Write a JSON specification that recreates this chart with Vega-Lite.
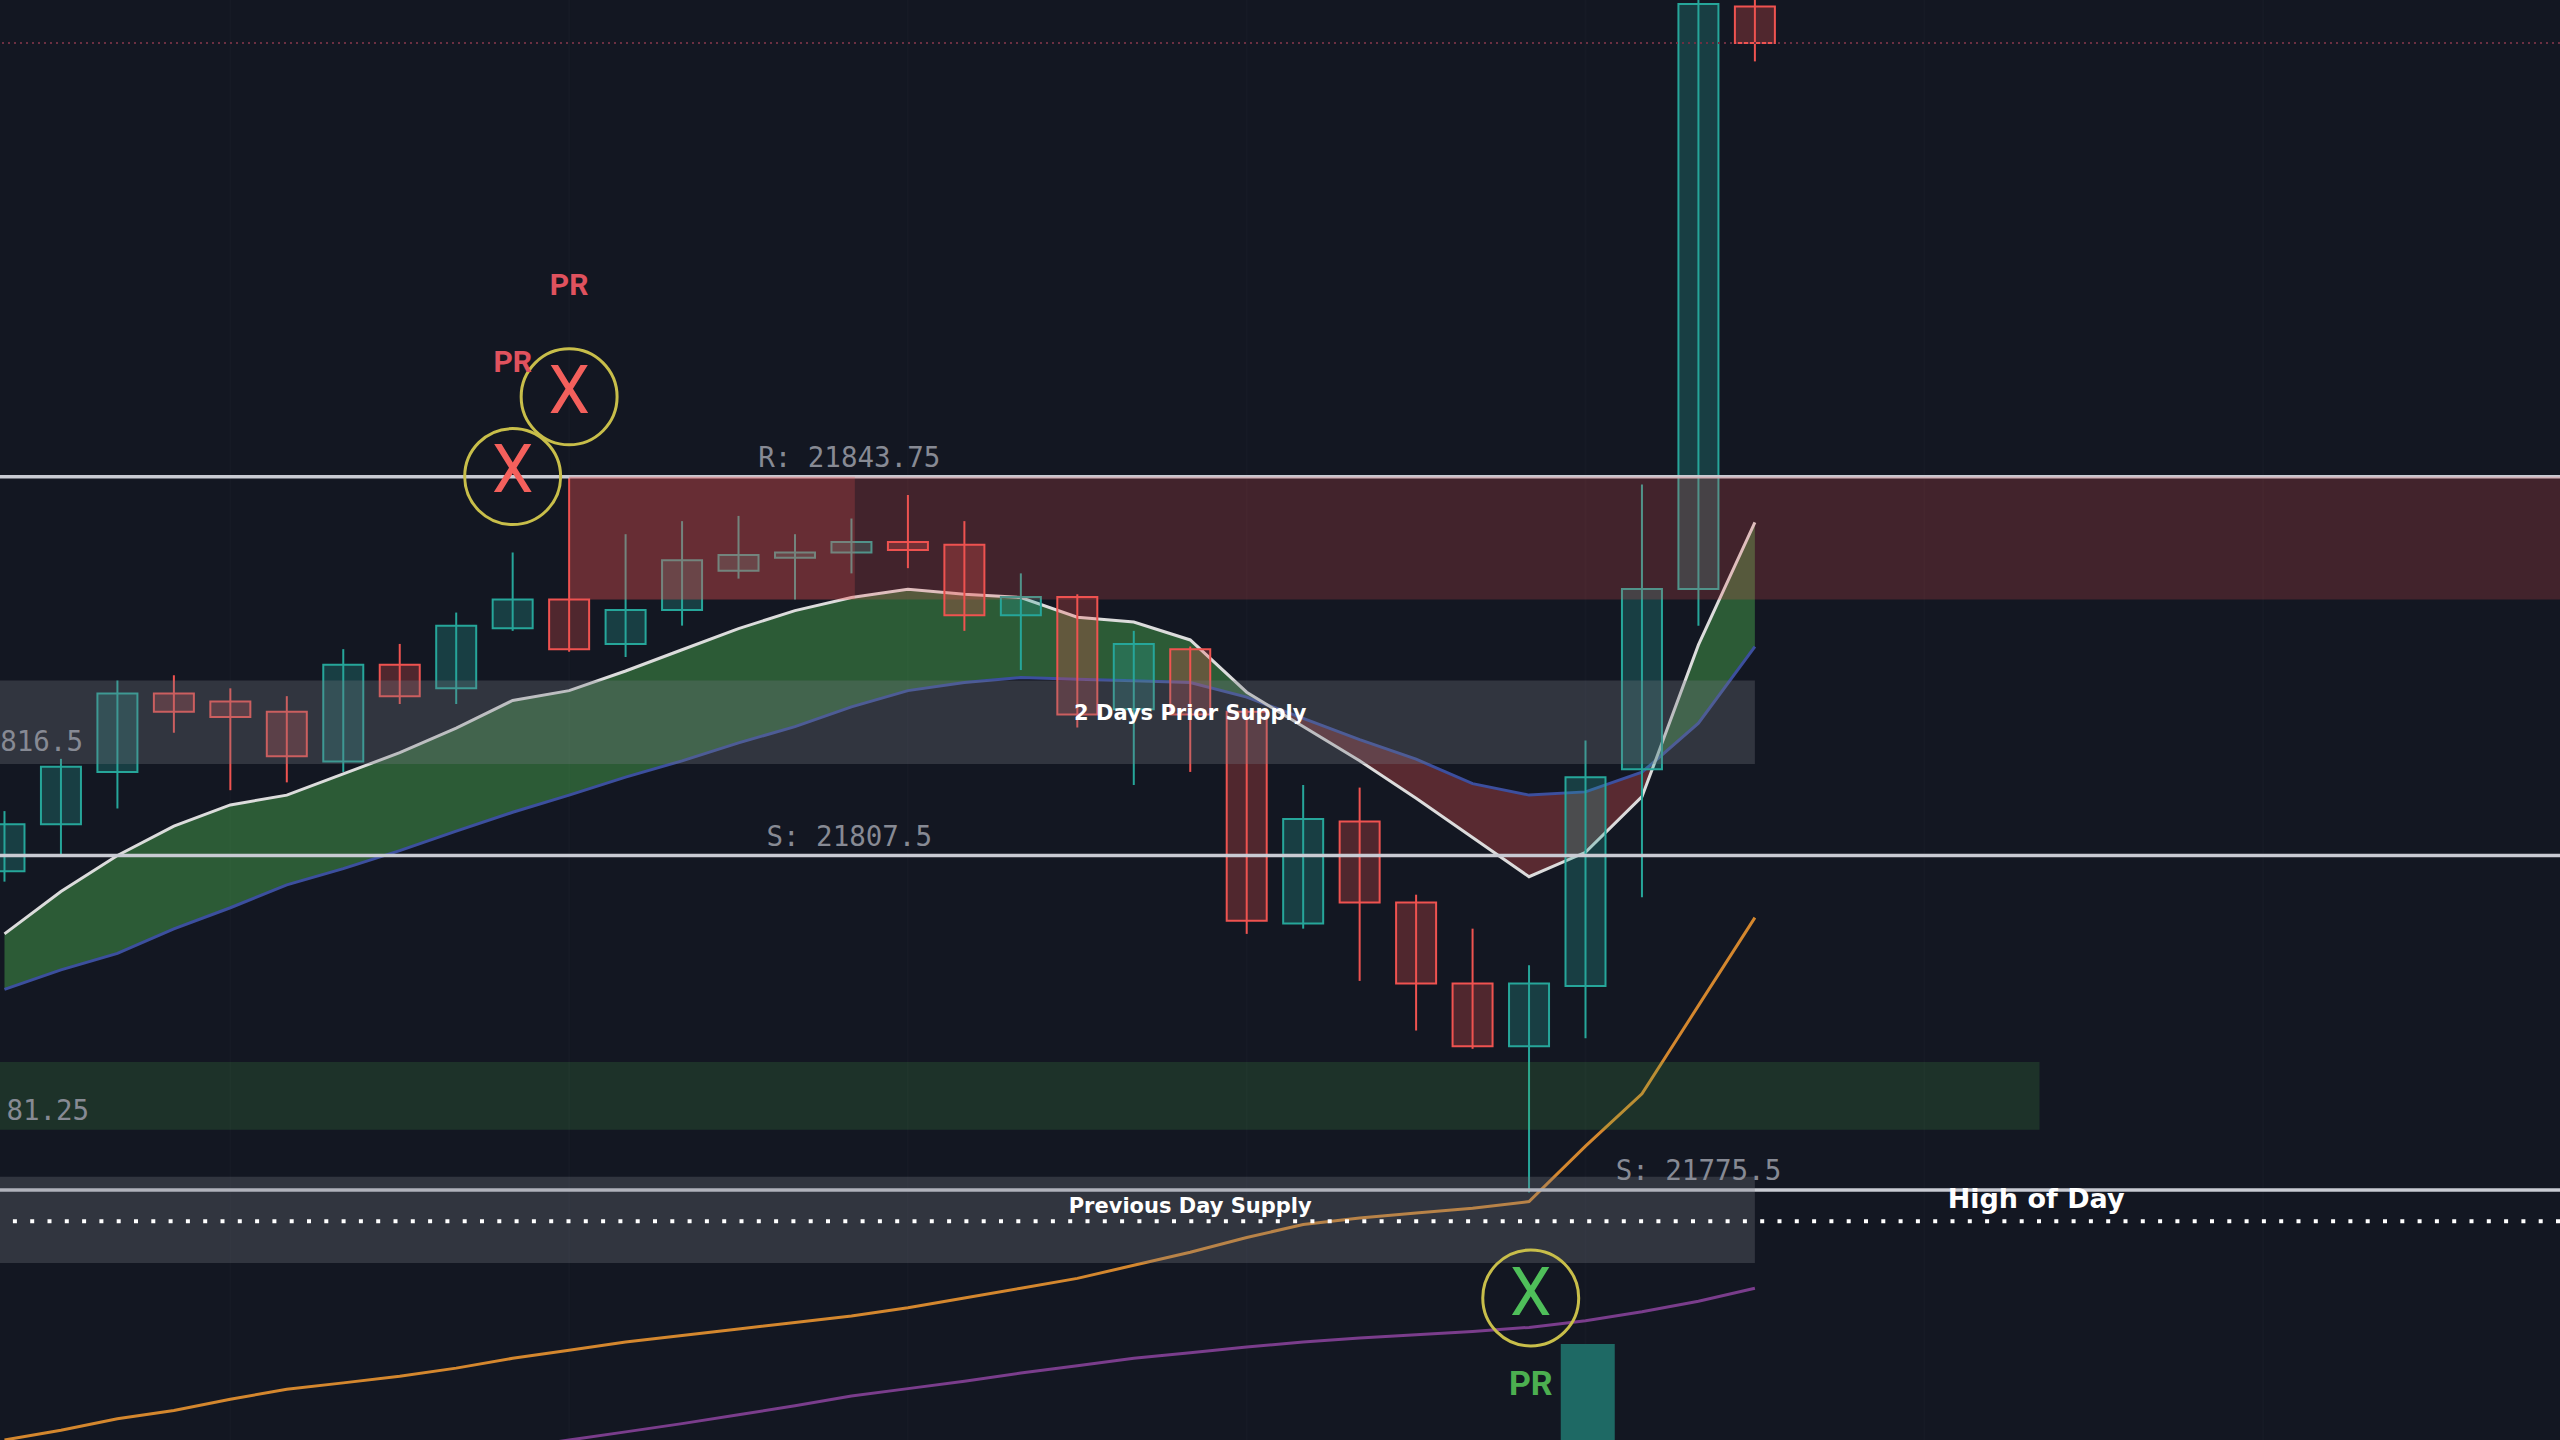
{
  "$schema": "https://vega.github.io/schema/vega-lite/v6.json",
  "width": 2560,
  "height": 1440,
  "autosize": {"type": "none"},
  "padding": 0,
  "background": "#131722",
  "config": {"view": {"stroke": null}},
  "datasets": {
    "grid": [{"i": 4}, {"i": 10}, {"i": 16}, {"i": 22}, {"i": 28}, {"i": 34}, {"i": 40}],
    "candles": [
      {"i": 0, "o": 21806.0, "h": 21811.75, "l": 21805.0, "c": 21810.5, "dir": "up"},
      {"i": 1, "o": 21810.5, "h": 21816.75, "l": 21807.5, "c": 21816.0, "dir": "up"},
      {"i": 2, "o": 21815.5, "h": 21824.25, "l": 21812.0, "c": 21823.0, "dir": "up"},
      {"i": 3, "o": 21823.0, "h": 21824.75, "l": 21819.25, "c": 21821.25, "dir": "down"},
      {"i": 4, "o": 21822.25, "h": 21823.5, "l": 21813.75, "c": 21820.75, "dir": "down"},
      {"i": 5, "o": 21821.25, "h": 21822.75, "l": 21814.5, "c": 21817.0, "dir": "down"},
      {"i": 6, "o": 21816.5, "h": 21827.25, "l": 21815.5, "c": 21825.75, "dir": "up"},
      {"i": 7, "o": 21825.75, "h": 21827.75, "l": 21822.0, "c": 21822.75, "dir": "down"},
      {"i": 8, "o": 21823.5, "h": 21830.75, "l": 21822.0, "c": 21829.5, "dir": "up"},
      {"i": 9, "o": 21829.25, "h": 21836.5, "l": 21829.0, "c": 21832.0, "dir": "up"},
      {"i": 10, "o": 21832.0, "h": 21843.75, "l": 21827.0, "c": 21827.25, "dir": "down"},
      {"i": 11, "o": 21827.75, "h": 21838.25, "l": 21826.5, "c": 21831.0, "dir": "up"},
      {"i": 12, "o": 21831.0, "h": 21839.5, "l": 21829.5, "c": 21835.75, "dir": "up"},
      {"i": 13, "o": 21834.75, "h": 21840.0, "l": 21834.0, "c": 21836.25, "dir": "up"},
      {"i": 14, "o": 21836.0, "h": 21838.25, "l": 21832.0, "c": 21836.5, "dir": "up"},
      {"i": 15, "o": 21836.5, "h": 21839.75, "l": 21834.5, "c": 21837.5, "dir": "up"},
      {"i": 16, "o": 21837.5, "h": 21842.0, "l": 21835.0, "c": 21836.75, "dir": "down"},
      {"i": 17, "o": 21837.25, "h": 21839.5, "l": 21829.0, "c": 21830.5, "dir": "down"},
      {"i": 18, "o": 21830.5, "h": 21834.5, "l": 21825.25, "c": 21832.25, "dir": "up"},
      {"i": 19, "o": 21832.25, "h": 21832.5, "l": 21819.75, "c": 21821.0, "dir": "down"},
      {"i": 20, "o": 21821.5, "h": 21829.0, "l": 21814.25, "c": 21827.75, "dir": "up"},
      {"i": 21, "o": 21827.25, "h": 21827.5, "l": 21815.5, "c": 21821.0, "dir": "down"},
      {"i": 22, "o": 21821.25, "h": 21821.5, "l": 21800.0, "c": 21801.25, "dir": "down"},
      {"i": 23, "o": 21801.0, "h": 21814.25, "l": 21800.5, "c": 21811.0, "dir": "up"},
      {"i": 24, "o": 21810.75, "h": 21814.0, "l": 21795.5, "c": 21803.0, "dir": "down"},
      {"i": 25, "o": 21803.0, "h": 21803.75, "l": 21790.75, "c": 21795.25, "dir": "down"},
      {"i": 26, "o": 21795.25, "h": 21800.5, "l": 21789.0, "c": 21789.25, "dir": "down"},
      {"i": 27, "o": 21789.25, "h": 21797.0, "l": 21775.25, "c": 21795.25, "dir": "up"},
      {"i": 28, "o": 21795.0, "h": 21818.5, "l": 21790.0, "c": 21815.0, "dir": "up"},
      {"i": 29, "o": 21815.75, "h": 21843.0, "l": 21803.5, "c": 21833.0, "dir": "up"},
      {"i": 30, "o": 21833.0, "h": 21890.0, "l": 21829.5, "c": 21889.0, "dir": "up"},
      {"i": 31, "o": 21888.75, "h": 21890.5, "l": 21883.5, "c": 21885.25, "dir": "down"}
    ],
    "ema": [
      {"i": 0, "fast": 21800.0, "slow": 21794.69, "seg": "g1"},
      {"i": 1, "fast": 21804.06, "slow": 21796.56, "seg": "g1"},
      {"i": 2, "fast": 21807.5, "slow": 21798.13, "seg": "g1"},
      {"i": 3, "fast": 21810.31, "slow": 21800.47, "seg": "g1"},
      {"i": 4, "fast": 21812.34, "slow": 21802.5, "seg": "g1"},
      {"i": 5, "fast": 21813.28, "slow": 21804.69, "seg": "g1"},
      {"i": 6, "fast": 21815.31, "slow": 21806.25, "seg": "g1"},
      {"i": 7, "fast": 21817.34, "slow": 21807.97, "seg": "g1"},
      {"i": 8, "fast": 21819.69, "slow": 21809.84, "seg": "g1"},
      {"i": 9, "fast": 21822.34, "slow": 21811.64, "seg": "g1"},
      {"i": 10, "fast": 21823.28, "slow": 21813.28, "seg": "g1"},
      {"i": 11, "fast": 21825.16, "slow": 21815.0, "seg": "g1"},
      {"i": 12, "fast": 21827.19, "slow": 21816.56, "seg": "g1"},
      {"i": 13, "fast": 21829.22, "slow": 21818.28, "seg": "g1"},
      {"i": 14, "fast": 21830.94, "slow": 21819.84, "seg": "g1"},
      {"i": 15, "fast": 21832.19, "slow": 21821.72, "seg": "g1"},
      {"i": 16, "fast": 21832.97, "slow": 21823.28, "seg": "g1"},
      {"i": 17, "fast": 21832.5, "slow": 21824.06, "seg": "g1"},
      {"i": 18, "fast": 21832.19, "slow": 21824.53, "seg": "g1"},
      {"i": 19, "fast": 21830.31, "slow": 21824.38, "seg": "g1"},
      {"i": 20, "fast": 21829.84, "slow": 21824.22, "seg": "g1"},
      {"i": 21, "fast": 21828.13, "slow": 21824.06, "seg": "g1"},
      {"i": 22, "fast": 21823.13, "slow": 21822.66, "seg": "g1"},
      {"i": 22.37, "fast": 21821.9, "slow": 21821.9, "seg": "g1"},
      {"i": 22.37, "fast": 21821.9, "slow": 21821.9, "seg": "r"},
      {"i": 23, "fast": 21819.84, "slow": 21820.63, "seg": "r"},
      {"i": 24, "fast": 21816.56, "slow": 21818.59, "seg": "r"},
      {"i": 25, "fast": 21812.97, "slow": 21816.72, "seg": "r"},
      {"i": 26, "fast": 21809.22, "slow": 21814.38, "seg": "r"},
      {"i": 27, "fast": 21805.47, "slow": 21813.28, "seg": "r"},
      {"i": 28, "fast": 21807.81, "slow": 21813.59, "seg": "r"},
      {"i": 29, "fast": 21813.13, "slow": 21815.47, "seg": "r"},
      {"i": 29.24, "fast": 21816.59, "slow": 21816.59, "seg": "r"},
      {"i": 29.24, "fast": 21816.59, "slow": 21816.59, "seg": "g2"},
      {"i": 30, "fast": 21827.66, "slow": 21820.16, "seg": "g2"},
      {"i": 31, "fast": 21839.38, "slow": 21827.5, "seg": "g2"}
    ],
    "orangeLine": [
      {"i": 0, "v": 21751.56}, {"i": 1, "v": 21752.5}, {"i": 2, "v": 21753.59}, {"i": 3, "v": 21754.38},
      {"i": 4, "v": 21755.47}, {"i": 5, "v": 21756.41}, {"i": 6, "v": 21757.03}, {"i": 7, "v": 21757.66},
      {"i": 8, "v": 21758.44}, {"i": 9, "v": 21759.38}, {"i": 10, "v": 21760.16}, {"i": 11, "v": 21760.94},
      {"i": 12, "v": 21761.56}, {"i": 13, "v": 21762.19}, {"i": 14, "v": 21762.81}, {"i": 15, "v": 21763.44},
      {"i": 16, "v": 21764.22}, {"i": 17, "v": 21765.16}, {"i": 18, "v": 21766.09}, {"i": 19, "v": 21767.03},
      {"i": 20, "v": 21768.28}, {"i": 21, "v": 21769.53}, {"i": 22, "v": 21770.94}, {"i": 23, "v": 21772.19},
      {"i": 24, "v": 21772.81}, {"i": 25, "v": 21773.28}, {"i": 26, "v": 21773.75}, {"i": 27, "v": 21774.38},
      {"i": 28, "v": 21779.69}, {"i": 29, "v": 21784.69}, {"i": 30, "v": 21793.13}, {"i": 31, "v": 21801.56}
    ],
    "purpleLine": [
      {"i": 8, "v": 21750.0}, {"i": 9, "v": 21750.78}, {"i": 10, "v": 21751.56}, {"i": 11, "v": 21752.34},
      {"i": 12, "v": 21753.13}, {"i": 13, "v": 21753.98}, {"i": 14, "v": 21754.84}, {"i": 15, "v": 21755.78},
      {"i": 16, "v": 21756.48}, {"i": 17, "v": 21757.19}, {"i": 18, "v": 21757.97}, {"i": 19, "v": 21758.67},
      {"i": 20, "v": 21759.38}, {"i": 21, "v": 21759.92}, {"i": 22, "v": 21760.47}, {"i": 23, "v": 21760.94},
      {"i": 24, "v": 21761.33}, {"i": 25, "v": 21761.64}, {"i": 26, "v": 21761.95}, {"i": 27, "v": 21762.34},
      {"i": 28, "v": 21762.97}, {"i": 29, "v": 21763.83}, {"i": 30, "v": 21764.84}, {"i": 31, "v": 21766.09}
    ],
    "volume": [{"i": 28.04, "top": 21760.75, "base": 21700}],
    "levels": [{"p": 21843.75}, {"p": 21807.5}, {"p": 21775.5}],
    "zones": [
      {"kind": "supplyDark", "i": 10, "i2": 46, "lo": 21832.0, "hi": 21843.75},
      {"kind": "supplyBright", "i": 10, "i2": 15.06, "lo": 21832.0, "hi": 21843.75},
      {"kind": "gray", "i": -2, "i2": 31, "lo": 21816.25, "hi": 21824.25},
      {"kind": "gray", "i": -2, "i2": 31, "lo": 21768.5, "hi": 21776.75},
      {"kind": "green", "i": -2, "i2": 36.04, "lo": 21781.25, "hi": 21787.75}
    ],
    "hod": [{"p": 21772.5}],
    "lastPrice": [{"p": 21885.25}],
    "levelLabels": [
      {"i": 14.96, "p": 21843.75, "t": "R: 21843.75"},
      {"i": 14.96, "p": 21807.5, "t": "S: 21807.5"},
      {"i": 30.0, "p": 21775.5, "t": "S: 21775.5"}
    ],
    "edgeLabels": [
      {"i": 1.39, "p": 21816.5, "t": "816.5"},
      {"i": 1.5, "p": 21781.25, "t": "81.25"}
    ],
    "zoneTitles": [
      {"i": 21.0, "p": 21820.47, "t": "2 Days Prior Supply"},
      {"i": 21.0, "p": 21773.28, "t": "Previous Day Supply"}
    ],
    "hodLabel": [{"i": 35.98, "p": 21773.75, "t": "High of Day"}],
    "circles": [
      {"i": 9, "p": 21843.77},
      {"i": 10, "p": 21851.4},
      {"i": 27.03, "p": 21765.16}
    ],
    "xRed": [{"i": 9, "p": 21842.3, "t": "X"}, {"i": 10, "p": 21849.83, "t": "X"}],
    "xGreen": [{"i": 27.03, "p": 21763.55, "t": "X"}],
    "prRed": [{"i": 9, "p": 21853.8, "t": "PR"}, {"i": 10, "p": 21861.16, "t": "PR"}],
    "prGreen": [{"i": 27.03, "p": 21755.89, "t": "PR"}]
  },
  "layer": [
    {
      "data": {"name": "grid"},
      "mark": {"type": "rule", "color": "#161a25", "strokeWidth": 2},
      "encoding": {
        "x": {"field": "i", "type": "quantitative", "axis": null, "scale": {"domain": [0.0092, 45.17], "nice": false, "zero": false}}
      }
    },
    {
      "data": {"name": "ema"},
      "transform": [{"filter": "datum.seg !== 'r'"}],
      "mark": {"type": "area", "color": "#4caf50", "opacity": 0.45},
      "encoding": {
        "x": {"field": "i", "type": "quantitative", "axis": null, "scale": {"domain": [0.0092, 45.17], "nice": false, "zero": false}},
        "y": {"field": "fast", "type": "quantitative", "axis": null, "scale": {"domain": [21751.5625, 21889.375], "nice": false, "zero": false}},
        "y2": {"field": "slow"},
        "detail": {"field": "seg"}
      }
    },
    {
      "data": {"name": "ema"},
      "transform": [{"filter": "datum.seg === 'r'"}],
      "mark": {"type": "area", "color": "#ef5350", "opacity": 0.32},
      "encoding": {
        "x": {"field": "i", "type": "quantitative", "axis": null, "scale": {"domain": [0.0092, 45.17], "nice": false, "zero": false}},
        "y": {"field": "fast", "type": "quantitative", "axis": null, "scale": {"domain": [21751.5625, 21889.375], "nice": false, "zero": false}},
        "y2": {"field": "slow"}
      }
    },
    {
      "data": {"name": "ema"},
      "mark": {"type": "line", "color": "#3c4f9e", "strokeWidth": 3},
      "encoding": {
        "x": {"field": "i", "type": "quantitative", "axis": null, "scale": {"domain": [0.0092, 45.17], "nice": false, "zero": false}},
        "y": {"field": "slow", "type": "quantitative", "axis": null, "scale": {"domain": [21751.5625, 21889.375], "nice": false, "zero": false}}
      }
    },
    {
      "data": {"name": "ema"},
      "mark": {"type": "line", "color": "#dcdcdc", "strokeWidth": 3},
      "encoding": {
        "x": {"field": "i", "type": "quantitative", "axis": null, "scale": {"domain": [0.0092, 45.17], "nice": false, "zero": false}},
        "y": {"field": "fast", "type": "quantitative", "axis": null, "scale": {"domain": [21751.5625, 21889.375], "nice": false, "zero": false}}
      }
    },
    {
      "data": {"name": "orangeLine"},
      "mark": {"type": "line", "color": "#d4872e", "strokeWidth": 3},
      "encoding": {
        "x": {"field": "i", "type": "quantitative", "axis": null, "scale": {"domain": [0.0092, 45.17], "nice": false, "zero": false}},
        "y": {"field": "v", "type": "quantitative", "axis": null, "scale": {"domain": [21751.5625, 21889.375], "nice": false, "zero": false}}
      }
    },
    {
      "data": {"name": "purpleLine"},
      "mark": {"type": "line", "color": "#7a3d8c", "strokeWidth": 3},
      "encoding": {
        "x": {"field": "i", "type": "quantitative", "axis": null, "scale": {"domain": [0.0092, 45.17], "nice": false, "zero": false}},
        "y": {"field": "v", "type": "quantitative", "axis": null, "scale": {"domain": [21751.5625, 21889.375], "nice": false, "zero": false}}
      }
    },
    {
      "data": {"name": "volume"},
      "mark": {"type": "bar", "color": "#1e6964", "size": 54},
      "encoding": {
        "x": {"field": "i", "type": "quantitative", "axis": null, "scale": {"domain": [0.0092, 45.17], "nice": false, "zero": false}},
        "y": {"field": "top", "type": "quantitative", "axis": null, "scale": {"domain": [21751.5625, 21889.375], "nice": false, "zero": false}},
        "y2": {"field": "base"}
      }
    },
    {
      "data": {"name": "candles"},
      "mark": {"type": "rule", "strokeWidth": 2},
      "encoding": {
        "x": {"field": "i", "type": "quantitative", "axis": null, "scale": {"domain": [0.0092, 45.17], "nice": false, "zero": false}},
        "y": {"field": "l", "type": "quantitative", "axis": null, "scale": {"domain": [21751.5625, 21889.375], "nice": false, "zero": false}},
        "y2": {"field": "h"},
        "color": {"field": "dir", "type": "nominal", "legend": null, "scale": {"domain": ["up", "down"], "range": ["#26a69a", "#ef5350"]}}
      }
    },
    {
      "data": {"name": "candles"},
      "mark": {"type": "bar", "size": 40, "strokeWidth": 2, "fillOpacity": 0.28},
      "encoding": {
        "x": {"field": "i", "type": "quantitative", "axis": null, "scale": {"domain": [0.0092, 45.17], "nice": false, "zero": false}},
        "y": {"field": "o", "type": "quantitative", "axis": null, "scale": {"domain": [21751.5625, 21889.375], "nice": false, "zero": false}},
        "y2": {"field": "c"},
        "fill": {"field": "dir", "type": "nominal", "legend": null, "scale": {"domain": ["up", "down"], "range": ["#26a69a", "#ef5350"]}},
        "stroke": {"field": "dir", "type": "nominal", "legend": null, "scale": {"domain": ["up", "down"], "range": ["#26a69a", "#ef5350"]}}
      }
    },
    {
      "data": {"name": "levels"},
      "mark": {"type": "rule", "color": "#c9cbd3", "strokeWidth": 3.5},
      "encoding": {
        "y": {"field": "p", "type": "quantitative", "axis": null, "scale": {"domain": [21751.5625, 21889.375], "nice": false, "zero": false}}
      }
    },
    {
      "data": {"name": "zones"},
      "transform": [{"filter": "datum.kind === 'supplyDark' || datum.kind === 'supplyBright'"}],
      "mark": {"type": "rect", "color": "#ef5350", "opacity": 0.22},
      "encoding": {
        "x": {"field": "i", "type": "quantitative", "axis": null, "scale": {"domain": [0.0092, 45.17], "nice": false, "zero": false}},
        "x2": {"field": "i2"},
        "y": {"field": "lo", "type": "quantitative", "axis": null, "scale": {"domain": [21751.5625, 21889.375], "nice": false, "zero": false}},
        "y2": {"field": "hi"}
      }
    },
    {
      "data": {"name": "zones"},
      "transform": [{"filter": "datum.kind === 'gray'"}],
      "mark": {"type": "rect", "color": "#787b86", "opacity": 0.3},
      "encoding": {
        "x": {"field": "i", "type": "quantitative", "axis": null, "scale": {"domain": [0.0092, 45.17], "nice": false, "zero": false}},
        "x2": {"field": "i2"},
        "y": {"field": "lo", "type": "quantitative", "axis": null, "scale": {"domain": [21751.5625, 21889.375], "nice": false, "zero": false}},
        "y2": {"field": "hi"}
      }
    },
    {
      "data": {"name": "zones"},
      "transform": [{"filter": "datum.kind === 'green'"}],
      "mark": {"type": "rect", "color": "#4caf50", "opacity": 0.18},
      "encoding": {
        "x": {"field": "i", "type": "quantitative", "axis": null, "scale": {"domain": [0.0092, 45.17], "nice": false, "zero": false}},
        "x2": {"field": "i2"},
        "y": {"field": "lo", "type": "quantitative", "axis": null, "scale": {"domain": [21751.5625, 21889.375], "nice": false, "zero": false}},
        "y2": {"field": "hi"}
      }
    },
    {
      "data": {"name": "hod"},
      "mark": {"type": "rule", "color": "#ffffff", "strokeWidth": 4, "strokeDash": [4, 13.3]},
      "encoding": {
        "y": {"field": "p", "type": "quantitative", "axis": null, "scale": {"domain": [21751.5625, 21889.375], "nice": false, "zero": false}}
      }
    },
    {
      "data": {"name": "lastPrice"},
      "mark": {"type": "rule", "color": "#6b3042", "strokeWidth": 2, "strokeDash": [2, 4]},
      "encoding": {
        "y": {"field": "p", "type": "quantitative", "axis": null, "scale": {"domain": [21751.5625, 21889.375], "nice": false, "zero": false}}
      }
    },
    {
      "data": {"name": "levelLabels"},
      "mark": {"type": "text", "font": "DejaVu Sans Mono", "fontSize": 27.5, "color": "#878a94", "align": "center", "baseline": "alphabetic", "dy": -10},
      "encoding": {
        "x": {"field": "i", "type": "quantitative", "axis": null, "scale": {"domain": [0.0092, 45.17], "nice": false, "zero": false}},
        "y": {"field": "p", "type": "quantitative", "axis": null, "scale": {"domain": [21751.5625, 21889.375], "nice": false, "zero": false}},
        "text": {"field": "t"}
      }
    },
    {
      "data": {"name": "edgeLabels"},
      "mark": {"type": "text", "font": "DejaVu Sans Mono", "fontSize": 27.5, "color": "#878a94", "align": "right", "baseline": "alphabetic", "dy": -10},
      "encoding": {
        "x": {"field": "i", "type": "quantitative", "axis": null, "scale": {"domain": [0.0092, 45.17], "nice": false, "zero": false}},
        "y": {"field": "p", "type": "quantitative", "axis": null, "scale": {"domain": [21751.5625, 21889.375], "nice": false, "zero": false}},
        "text": {"field": "t"}
      }
    },
    {
      "data": {"name": "zoneTitles"},
      "mark": {"type": "text", "font": "DejaVu Sans", "fontWeight": "bold", "fontSize": 21, "color": "#ffffff", "align": "center", "baseline": "alphabetic"},
      "encoding": {
        "x": {"field": "i", "type": "quantitative", "axis": null, "scale": {"domain": [0.0092, 45.17], "nice": false, "zero": false}},
        "y": {"field": "p", "type": "quantitative", "axis": null, "scale": {"domain": [21751.5625, 21889.375], "nice": false, "zero": false}},
        "text": {"field": "t"}
      }
    },
    {
      "data": {"name": "hodLabel"},
      "mark": {"type": "text", "font": "DejaVu Sans", "fontWeight": "bold", "fontSize": 27, "color": "#ffffff", "align": "center", "baseline": "alphabetic"},
      "encoding": {
        "x": {"field": "i", "type": "quantitative", "axis": null, "scale": {"domain": [0.0092, 45.17], "nice": false, "zero": false}},
        "y": {"field": "p", "type": "quantitative", "axis": null, "scale": {"domain": [21751.5625, 21889.375], "nice": false, "zero": false}},
        "text": {"field": "t"}
      }
    },
    {
      "data": {"name": "circles"},
      "mark": {"type": "point", "shape": "circle", "filled": false, "size": 9200, "stroke": "#c8be4a", "strokeWidth": 3, "opacity": 1},
      "encoding": {
        "x": {"field": "i", "type": "quantitative", "axis": null, "scale": {"domain": [0.0092, 45.17], "nice": false, "zero": false}},
        "y": {"field": "p", "type": "quantitative", "axis": null, "scale": {"domain": [21751.5625, 21889.375], "nice": false, "zero": false}}
      }
    },
    {
      "data": {"name": "xRed"},
      "mark": {"type": "text", "font": "Roboto", "fontSize": 66, "color": "#f4605c", "align": "center", "baseline": "alphabetic"},
      "encoding": {
        "x": {"field": "i", "type": "quantitative", "axis": null, "scale": {"domain": [0.0092, 45.17], "nice": false, "zero": false}},
        "y": {"field": "p", "type": "quantitative", "axis": null, "scale": {"domain": [21751.5625, 21889.375], "nice": false, "zero": false}},
        "text": {"field": "t"}
      }
    },
    {
      "data": {"name": "xGreen"},
      "mark": {"type": "text", "font": "Roboto", "fontSize": 66, "color": "#4fbf5a", "align": "center", "baseline": "alphabetic"},
      "encoding": {
        "x": {"field": "i", "type": "quantitative", "axis": null, "scale": {"domain": [0.0092, 45.17], "nice": false, "zero": false}},
        "y": {"field": "p", "type": "quantitative", "axis": null, "scale": {"domain": [21751.5625, 21889.375], "nice": false, "zero": false}},
        "text": {"field": "t"}
      }
    },
    {
      "data": {"name": "prRed"},
      "mark": {"type": "text", "font": "Roboto", "fontWeight": "bold", "fontSize": 30, "color": "#e0525e", "align": "center", "baseline": "alphabetic"},
      "encoding": {
        "x": {"field": "i", "type": "quantitative", "axis": null, "scale": {"domain": [0.0092, 45.17], "nice": false, "zero": false}},
        "y": {"field": "p", "type": "quantitative", "axis": null, "scale": {"domain": [21751.5625, 21889.375], "nice": false, "zero": false}},
        "text": {"field": "t"}
      }
    },
    {
      "data": {"name": "prGreen"},
      "mark": {"type": "text", "font": "Roboto", "fontWeight": "bold", "fontSize": 34, "color": "#4caf50", "align": "center", "baseline": "alphabetic"},
      "encoding": {
        "x": {"field": "i", "type": "quantitative", "axis": null, "scale": {"domain": [0.0092, 45.17], "nice": false, "zero": false}},
        "y": {"field": "p", "type": "quantitative", "axis": null, "scale": {"domain": [21751.5625, 21889.375], "nice": false, "zero": false}},
        "text": {"field": "t"}
      }
    }
  ]
}
